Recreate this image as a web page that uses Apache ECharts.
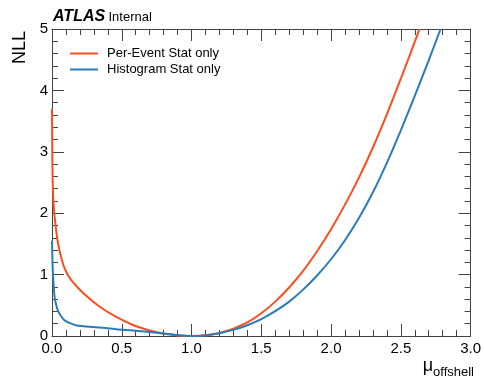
<!DOCTYPE html>
<html>
<head>
<meta charset="utf-8">
<script src="https://cdn.jsdelivr.net/npm/echarts@6/dist/echarts.min.js"></script>
<style>
  html, body { margin: 0; padding: 0; background: #fff; }
  #chart { width: 484px; height: 379px; }
</style>
</head>
<body>
<div id="chart"></div>
<script>
// Per-Event Stat only
const perEventMu = [0, 0.002, 0.005, 0.01, 0.019, 0.043, 0.078, 0.105, 0.138, 0.223, 0.34, 0.46, 0.58, 0.70, 0.77, 0.80, 0.90, 1.0, 1.1, 1.2, 1.3, 1.4, 1.5, 1.6, 1.7, 1.8, 1.9, 2.0, 2.1, 2.2, 2.3, 2.4, 2.5, 2.6, 2.634]
const perEventNll = [3.7, 3.0, 2.5, 2.2, 1.94, 1.51, 1.18, 1.03, 0.91, 0.70, 0.48, 0.31, 0.18, 0.09, 0.055, 0.04, 0.01, 0.0, 0.012, 0.05, 0.12, 0.22, 0.37, 0.56, 0.79, 1.06, 1.38, 1.74, 2.14, 2.58, 3.07, 3.61, 4.19, 4.79, 5.0]

// Histogram Stat only
const histMu = [0, 0.005, 0.014, 0.021, 0.033, 0.045, 0.069, 0.093, 0.128, 0.176, 0.223, 0.34, 0.46, 0.58, 0.70, 0.80, 0.90, 1.0, 1.1, 1.2, 1.3, 1.4, 1.5, 1.6, 1.7, 1.8, 1.9, 2.0, 2.1, 2.2, 2.3, 2.4, 2.5, 2.6, 2.7, 2.785]
const histNll = [1.55, 1.1, 0.75, 0.6, 0.48, 0.4, 0.31, 0.25, 0.21, 0.17, 0.16, 0.14, 0.11, 0.09, 0.065, 0.04, 0.015, 0.0, 0.01, 0.045, 0.10, 0.175, 0.275, 0.405, 0.56, 0.755, 0.985, 1.25, 1.56, 1.92, 2.34, 2.82, 3.35, 3.91, 4.49, 5.0]

const seriesNames = ['Per-Event Stat only', 'Histogram Stat only']
const FONT = '"Liberation Sans", Arial, sans-serif'

const chart = echarts.init(document.getElementById('chart'))

// ticks drawn into the frame (ROOT/ATLAS style), all four sides
const axisCommon = {
    axisLine: { show: true, onZero: false, lineStyle: { color: '#444', width: 1 } },
    axisTick: { show: true, inside: true, length: 12, lineStyle: { color: '#444' } },
    minorTick: { show: true, splitNumber: 5, length: 6, lineStyle: { color: '#444' } },
    splitLine: { show: false },
    minorSplitLine: { show: false },
}

chart.setOption({
    animation: false,
    backgroundColor: '#fff',
    grid: { left: 52, right: 11, top: 29, bottom: 43, containLabel: false },
    legend: {
        orient: 'vertical',
        left: 70,
        top: 47,
        padding: 0,
        icon: 'rect',
        itemWidth: 28,
        itemHeight: 2,
        itemGap: 3,
        data: seriesNames,
        textStyle: { fontFamily: FONT, fontSize: 13, color: '#000', padding: [0, 0, 0, 4] },
    },
    xAxis: [
        {
            type: 'value', position: 'bottom', min: 0, max: 3, interval: 0.5,
            ...axisCommon,
            axisLabel: { fontFamily: FONT, fontSize: 15, color: '#000', margin: 5, formatter: (v) => v.toFixed(1) },
        },
        {
            type: 'value', position: 'top', min: 0, max: 3, interval: 0.5,
            ...axisCommon,
            axisLabel: { show: false },
        },
    ],
    yAxis: [
        {
            type: 'value', position: 'left', min: 0, max: 5, interval: 1,
            ...axisCommon,
            axisLabel: { fontFamily: FONT, fontSize: 15, color: '#000', margin: 4 },
        },
        {
            type: 'value', position: 'right', min: 0, max: 5, interval: 1,
            ...axisCommon,
            axisLabel: { show: false },
        },
    ],
    series: [
        {
            name: seriesNames[0],
            type: 'line',
            data: perEventMu.map((m, i) => [m, perEventNll[i]]),
            symbol: 'none',
            smooth: 0.3,
            lineStyle: { color: '#fd4d1c', width: 2 },
            itemStyle: { color: '#fd4d1c' },
        },
        {
            name: seriesNames[1],
            type: 'line',
            data: histMu.map((m, i) => [m, histNll[i]]),
            symbol: 'none',
            smooth: 0.3,
            lineStyle: { color: '#2b7bba', width: 2 },
            itemStyle: { color: '#2b7bba' },
        },
    ],
    graphic: [
        {
            type: 'text', x: 53, y: 25,
            style: {
                text: '{a|ATLAS} {b|Internal}',
                textVerticalAlign: 'bottom',
                rich: {
                    a: { fontFamily: FONT, fontSize: 16, fontWeight: 'bold', fontStyle: 'italic', fill: '#000' },
                    b: { fontFamily: FONT, fontSize: 13, fill: '#000' },
                },
            },
        },
        {
            type: 'text', x: 20, y: 31, rotation: Math.PI / 2,
            style: {
                text: 'NLL', fontFamily: FONT, fontSize: 18, fill: '#000',
                textAlign: 'right', textVerticalAlign: 'middle',
            },
        },
        {
            type: 'text', x: 474, y: 379,
            style: {
                text: '{m|μ}{s|offshell}',
                textAlign: 'right', textVerticalAlign: 'bottom',
                rich: {
                    m: { fontFamily: FONT, fontSize: 18, fill: '#000', verticalAlign: 'bottom', padding: [0, 0, 4, 0] },
                    s: { fontFamily: FONT, fontSize: 13, fill: '#000', verticalAlign: 'bottom' },
                },
            },
        },
    ],
})
</script>
</body>
</html>
